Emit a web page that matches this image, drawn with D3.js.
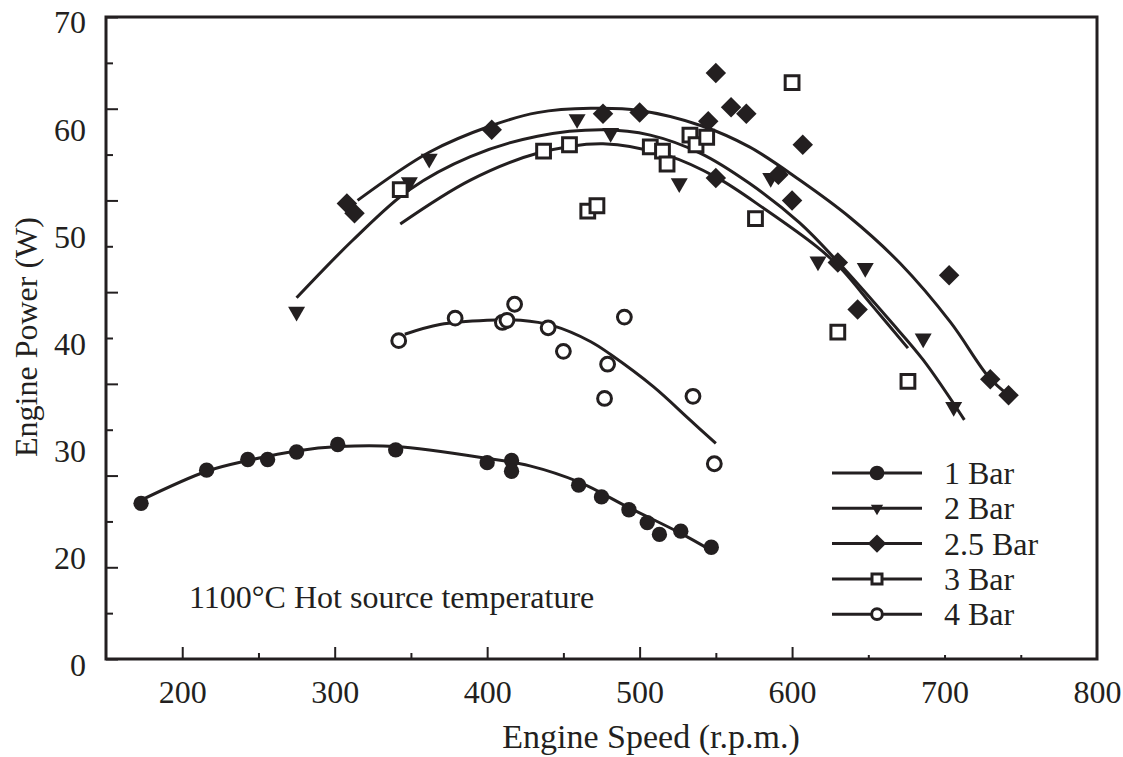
<!DOCTYPE html>
<html>
<head>
<meta charset="utf-8">
<script src="https://cdn.jsdelivr.net/npm/d3@7"></script>
<style>
  body { margin: 0; background: #fff; }
  text { font-family: "Liberation Serif", "Times New Roman", serif; fill: #231f20; }
</style>
</head>
<body>
<div id="chart"></div>
<script>
// measured points (engine speed rpm, engine power W)
var speed1 = [173, 216, 243, 256, 275, 302, 340, 400, 416, 416, 460, 475, 493, 505, 513, 527, 547];
var power1 = [25.1, 28.2, 29.2, 29.2, 29.9, 30.6, 30.1, 28.9, 29.1, 28.1, 26.8, 25.7, 24.5, 23.3, 22.2, 22.5, 21.0];

var speed2 = [275, 349, 362, 459, 481, 526, 586, 617, 648, 686, 706];
var power2 = [43.0, 55.1, 57.3, 61.0, 59.7, 55.0, 55.5, 47.7, 47.1, 40.5, 34.1];

var speed25 = [308, 313, 403, 476, 500, 545, 550, 550, 560, 570, 591, 600, 607, 630, 643, 703, 730, 742];
var power25 = [53.1, 52.2, 60.0, 61.5, 61.6, 60.8, 65.3, 55.5, 62.1, 61.5, 55.8, 53.4, 58.6, 47.6, 43.2, 46.4, 36.7, 35.2];

var speed3 = [343, 437, 454, 466, 472, 507, 515, 518, 533, 537, 544, 576, 600, 630, 676];
var power3 = [54.4, 58.0, 58.6, 52.4, 52.9, 58.4, 58.0, 56.8, 59.5, 58.6, 59.3, 51.7, 64.4, 41.1, 36.5];

var speed4 = [342, 379, 418, 410, 413, 440, 450, 479, 490, 477, 535, 549];
var power4 = [40.3, 42.4, 43.7, 42.0, 42.2, 41.5, 39.3, 38.1, 42.5, 34.9, 35.1, 28.8];

// trend curves
var fit1Speed = [173, 216, 243, 275, 303, 340, 400, 428, 460, 493, 527, 547];
var fit1Power = [25.4, 28.1, 29.1, 30.0, 30.4, 30.4, 29.3, 28.6, 27.1, 24.7, 22.3, 20.7];

var fit2Speed = [275, 312, 349, 389, 433, 476, 507, 540, 572, 605, 631, 664, 686, 713];
var fit2Power = [44.3, 49.7, 54.4, 57.5, 59.4, 60.0, 59.5, 57.8, 55.0, 51.3, 47.5, 42.2, 38.5, 32.9];

var fit25Speed = [315, 362, 403, 433, 468, 500, 540, 572, 605, 638, 671, 704, 729, 742];
var fit25Power = [53.4, 57.9, 60.4, 61.6, 62.0, 61.8, 60.4, 58.4, 55.3, 51.8, 47.5, 42.0, 36.9, 35.2];

var fit3Speed = [343, 389, 433, 476, 518, 551, 583, 616, 631, 653, 676];
var fit3Power = [51.2, 55.3, 57.8, 58.7, 57.6, 55.5, 52.5, 49.1, 47.2, 43.5, 39.6];

var fit4Speed = [346, 369, 400, 422, 443, 468, 481, 509, 533, 550];
var fit4Power = [40.9, 41.8, 42.2, 42.2, 41.7, 40.2, 39.0, 36.0, 32.9, 30.7];

var seriesNames = ["1 Bar", "2 Bar", "2.5 Bar", "3 Bar", "4 Bar"];

// axis ticks and labels
var xLabelValues = [200, 300, 400, 500, 600, 700, 800];
var xMajorTicks = [200, 300, 400, 500, 600];
var xMinorTicks = [250, 350, 450, 550];
var xSmallTicks = [650, 700, 750];
var yLabelValues = [70, 60, 50, 40, 30, 20, 10];
var yLabelText = ["70", "60", "50", "40", "30", "20", "0"];
var yMajorTicks = [0, 10, 20, 30, 40, 50, 60, 70];
var yMinorTicks = [5, 15, 25, 35, 45, 55, 65];

var ink = "#231f20";
var svgWidth = 1123;
var svgHeight = 757;

var svg = d3.select("#chart")
  .append("svg")
  .attr("width", svgWidth)
  .attr("height", svgHeight);

// scales
var xScale = d3.scaleLinear().domain([150, 800]).range([106, 1097]);
var yScale = d3.scaleLinear().domain([10, 70]).range([665, 22.7]);
var yTickScale = d3.scaleLinear().domain([0, 70]).range([659, 17]);

var plotTop = yTickScale(70), plotBottom = yTickScale(0);
var plotLeft = xScale(150), plotRight = xScale(800);

// tick marks (inward)
function tickAxis(axis, transform) {
  var g = svg.append("g").attr("transform", transform).call(axis);
  g.select(".domain").remove();
  g.selectAll("line").attr("stroke", ink).attr("stroke-width", 2);
  return g;
}
tickAxis(d3.axisBottom(xScale).tickValues(xMajorTicks).tickSize(-12).tickFormat(""), `translate(0,${plotBottom})`);
tickAxis(d3.axisBottom(xScale).tickValues(xMinorTicks).tickSize(-6).tickFormat(""), `translate(0,${plotBottom})`);
tickAxis(d3.axisBottom(xScale).tickValues(xSmallTicks).tickSize(-4).tickFormat(""), `translate(0,${plotBottom})`);
tickAxis(d3.axisLeft(yTickScale).tickValues(yMajorTicks).tickSize(-12).tickFormat(""), `translate(${plotLeft},0)`);
tickAxis(d3.axisLeft(yTickScale).tickValues(yMinorTicks).tickSize(-7).tickFormat(""), `translate(${plotLeft},0)`);

// tick labels
var xLab = svg.append("g")
  .attr("transform", `translate(0,${plotBottom})`)
  .call(d3.axisBottom(xScale).tickValues(xLabelValues).tickSize(0).tickPadding(21));
xLab.select(".domain").remove();
xLab.selectAll("text").attr("font-size", 32).attr("font-family", "Liberation Serif").attr("fill", ink);

var yLab = svg.append("g")
  .attr("transform", `translate(${plotLeft},0)`)
  .call(d3.axisLeft(yScale).tickValues(yLabelValues).tickSize(0).tickPadding(20)
    .tickFormat((d, i) => yLabelText[i]));
yLab.select(".domain").remove();
yLab.selectAll("text").attr("font-size", 32).attr("font-family", "Liberation Serif").attr("fill", ink);

// frame
svg.append("rect")
  .attr("x", plotLeft)
  .attr("y", plotTop)
  .attr("width", plotRight - plotLeft)
  .attr("height", plotBottom - plotTop)
  .attr("fill", "none")
  .attr("stroke", ink)
  .attr("stroke-width", 3);

// axis titles
svg.append("text")
  .attr("x", 651)
  .attr("y", 748)
  .attr("text-anchor", "middle")
  .attr("font-size", 34)
  .text("Engine Speed (r.p.m.)");

svg.append("text")
  .attr("transform", "translate(37, 337) rotate(-90)")
  .attr("text-anchor", "middle")
  .attr("font-size", 32)
  .text("Engine Power (W)");

svg.append("text")
  .attr("x", 189)
  .attr("y", 608)
  .attr("font-size", 32)
  .text("1100\u00B0C Hot source temperature");

// curves
var line = d3.line()
  .x(d => xScale(d[0]))
  .y(d => yScale(d[1]))
  .curve(d3.curveCatmullRom.alpha(0.5));

var fits = [
  [fit1Speed, fit1Power],
  [fit2Speed, fit2Power],
  [fit25Speed, fit25Power],
  [fit3Speed, fit3Power],
  [fit4Speed, fit4Power]
];
fits.forEach(function (f) {
  svg.append("path")
    .datum(d3.zip(f[0], f[1]))
    .attr("d", line)
    .attr("fill", "none")
    .attr("stroke", ink)
    .attr("stroke-width", 3);
});

// marker styles
var markers = [
  { type: d3.symbolCircle, size: 185, legendSize: 170, rot: 0, fill: ink },
  { type: d3.symbolTriangle, size: 125, legendSize: 65, rot: 180, fill: ink },
  { type: d3.symbolSquare, size: 210, legendSize: 170, rot: 45, fill: ink },
  { type: d3.symbolSquare, size: 190, legendSize: 100, rot: 0, fill: "#fff" },
  { type: d3.symbolCircle, size: 150, legendSize: 90, rot: 0, fill: "#fff" }
];

var pointSets = [
  [speed1, power1],
  [speed2, power2],
  [speed25, power25],
  [speed3, power3],
  [speed4, power4]
];

pointSets.forEach(function (p, i) {
  var m = markers[i];
  svg.append("g").selectAll("path")
    .data(d3.zip(p[0], p[1]))
    .enter()
    .append("path")
    .attr("d", d3.symbol().type(m.type).size(m.size))
    .attr("transform", d => `translate(${xScale(d[0])},${yScale(d[1])}) rotate(${m.rot})`)
    .attr("fill", m.fill)
    .attr("stroke", ink)
    .attr("stroke-width", m.fill === ink ? 0 : 3);
});

// legend
var legend = svg.append("g").attr("transform", "translate(832,473)");
seriesNames.forEach(function (name, i) {
  var m = markers[i];
  var row = legend.append("g").attr("transform", `translate(0,${i * 35.3})`);
  row.append("line")
    .attr("x1", 0).attr("x2", 90)
    .attr("stroke", ink)
    .attr("stroke-width", 3);
  row.append("path")
    .attr("d", d3.symbol().type(m.type).size(m.legendSize))
    .attr("transform", `translate(45,0) rotate(${m.rot})`)
    .attr("fill", m.fill)
    .attr("stroke", ink)
    .attr("stroke-width", m.fill === ink ? 0 : 3);
  row.append("text")
    .attr("x", 112)
    .attr("y", 11)
    .attr("font-size", 32)
    .text(name);
});
</script>
</body>
</html>
